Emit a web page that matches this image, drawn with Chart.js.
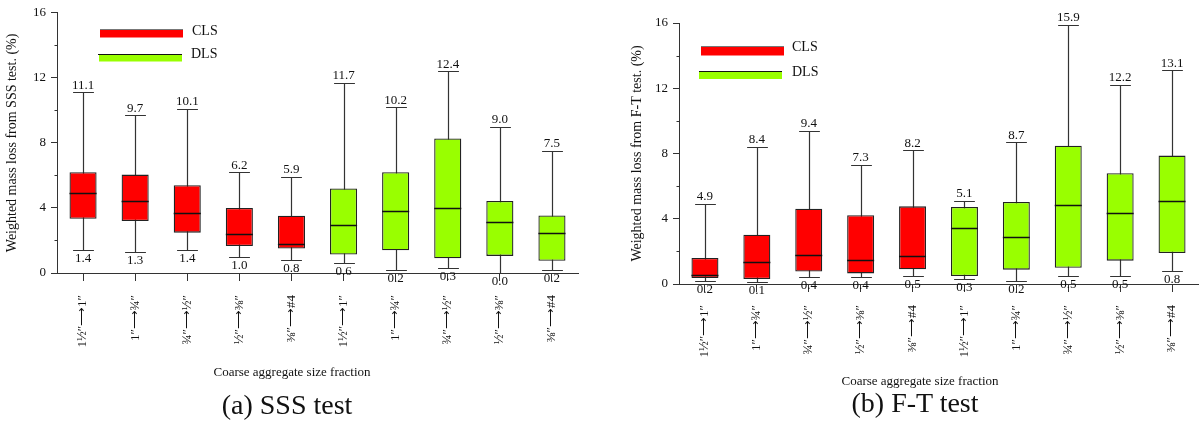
<!DOCTYPE html>
<html><head><meta charset="utf-8">
<script src="https://cdn.jsdelivr.net/npm/chart.js@4"></script>
<style>
html,body{margin:0;padding:0;background:#fff;width:1199px;height:425px;overflow:hidden}
#a{position:absolute;left:0;top:0}
#b{position:absolute;left:600px;top:0}
.lbl{position:absolute;transform:translate(-50%,-50%);white-space:nowrap;line-height:1;color:#111;
  font-family:'Liberation Serif','Times New Roman',serif}
.xt{font-size:13px}
.cap{font-size:28px}
</style></head><body>
<canvas id="a" width="600" height="425"></canvas>
<canvas id="b" width="599" height="425"></canvas>
<div class="lbl xt" style="left:292px;top:371px">Coarse aggregate size fraction</div>
<div class="lbl xt" style="left:920px;top:380px">Coarse aggregate size fraction</div>
<div class="lbl cap" style="left:287px;top:405px">(a) SSS test</div>
<div class="lbl cap" style="left:915px;top:403px">(b) F-T test</div>
<script>
// ---------- data ----------
const categories = ['1½″⟶1″', '1″⟶¾″', '¾″⟶½″', '½″⟶⅜″', '⅜″⟶#4', '1½″⟶1″', '1″⟶¾″', '¾″⟶½″', '½″⟶⅜″', '⅜″⟶#4'];
const slag = ['CLS','CLS','CLS','CLS','CLS','DLS','DLS','DLS','DLS','DLS'];
const yTicks = [0, 4, 8, 12, 16];

const sssMin    = [1.4, 1.3, 1.4, 1.0, 0.8, 0.6, 0.2, 0.3, 0.0, 0.2];
const sssQ1     = [3.34, 3.2, 2.48, 1.66, 1.5, 1.14, 1.4, 0.9, 1.05, 0.75];
const sssMedian = [4.9, 4.43, 3.7, 2.4, 1.79, 2.97, 3.84, 4.0, 3.15, 2.48];
const sssQ3     = [6.2, 6.05, 5.4, 4.0, 3.52, 5.2, 6.2, 8.27, 4.43, 3.54];
const sssMax    = [11.1, 9.7, 10.1, 6.2, 5.9, 11.7, 10.2, 12.4, 9.0, 7.5];

const ftMin     = [0.2, 0.1, 0.4, 0.4, 0.5, 0.3, 0.2, 0.5, 0.5, 0.8];
const ftQ1      = [0.37, 0.31, 0.77, 0.65, 0.9, 0.49, 0.88, 1.0, 1.43, 1.9];
const ftMedian  = [0.53, 1.35, 1.78, 1.47, 1.72, 3.44, 2.88, 4.82, 4.36, 5.09];
const ftQ3      = [1.6, 3.02, 4.62, 4.21, 4.76, 4.72, 5.03, 8.48, 6.79, 7.87];
const ftMax     = [4.9, 8.4, 9.4, 7.3, 8.2, 5.1, 8.7, 15.9, 12.2, 13.1];

// ---------- styling ----------
const SERIF = "'Liberation Serif','Times New Roman',serif";
const RED = '#ff0000', GREEN = '#99ff00';

const boxExtras = {
  id: 'boxExtras',
  beforeDatasetsDraw(chart, args, o) {
    const {ctx} = chart; const x = chart.scales.x, y = chart.scales.y;
    const step = x.getPixelForValue(1) - x.getPixelForValue(0);
    const half = step * o.capFrac / 2;
    ctx.save();
    ctx.strokeStyle = '#333'; ctx.lineWidth = 1.2;
    ctx.beginPath();
    o.min.forEach((mn, i) => {
      const cx = Math.round(x.getPixelForValue(i)) + 0.5;
      const y0 = Math.round(y.getPixelForValue(mn)) + 0.5;
      const y1 = Math.round(y.getPixelForValue(o.max[i])) + 0.5;
      ctx.moveTo(cx, y0); ctx.lineTo(cx, y1);
      ctx.moveTo(cx - half, y0); ctx.lineTo(cx + half, y0);
      ctx.moveTo(cx - half, y1); ctx.lineTo(cx + half, y1);
    });
    ctx.stroke();
    // minor y ticks
    ctx.strokeStyle = '#333'; ctx.lineWidth = 1;
    ctx.beginPath();
    const ax = Math.round(chart.chartArea.left) + 0.5;
    y.ticks.forEach(t => {
      if (!yTicks.includes(t.value)) {
        const py = Math.round(y.getPixelForValue(t.value)) + 0.5;
        ctx.moveTo(ax - 3, py); ctx.lineTo(ax, py);
      }
    });
    ctx.stroke();
    ctx.restore();
  },
  afterDatasetsDraw(chart, args, o) {
    const {ctx} = chart; const x = chart.scales.x, y = chart.scales.y;
    ctx.save();
    // medians
    ctx.strokeStyle = '#111'; ctx.lineWidth = 1.3;
    ctx.beginPath();
    chart.data.datasets.forEach((ds, di) => {
      chart.getDatasetMeta(di).data.forEach((el, i) => {
        if (ds.data[i] == null) return;
        const py = Math.round(y.getPixelForValue(o.median[i])) + 0.5;
        ctx.moveTo(el.x - el.width / 2, py); ctx.lineTo(el.x + el.width / 2, py);
      });
    });
    ctx.stroke();
    // value labels
    ctx.fillStyle = '#111';
    ctx.font = `13px ${SERIF}`;
    ctx.textAlign = 'center';
    o.min.forEach((mn, i) => {
      const cx = x.getPixelForValue(i);
      ctx.textBaseline = 'bottom';
      ctx.fillText(o.max[i].toFixed(1), cx, y.getPixelForValue(o.max[i]) - 0.5);
      ctx.textBaseline = 'top';
      ctx.fillText(mn.toFixed(1), cx, y.getPixelForValue(mn) + 2);
    });
    // legend
    o.legend.forEach(L => {
      ctx.fillStyle = L.color;
      ctx.fillRect(L.x, L.y, L.w, L.h);
      ctx.strokeStyle = L.lineColor; ctx.lineWidth = 1;
      ctx.beginPath(); ctx.moveTo(L.lx0, L.y - 0.5); ctx.lineTo(L.lx1, L.y - 0.5); ctx.stroke();
      ctx.fillStyle = '#111';
      ctx.font = `14px ${SERIF}`;
      ctx.textAlign = 'left'; ctx.textBaseline = 'middle';
      ctx.fillText(L.label, L.tx, L.ty);
    });
    ctx.restore();
  }
};

function boxData(q1, q3, grp) {
  return categories.map((_, i) => slag[i] === grp ? [q1[i], q3[i]] : null);
}

function makeChart(id, s) {
  return new Chart(document.getElementById(id), {
    type: 'bar',
    data: {
      labels: categories,
      datasets: [
        {label: 'CLS', data: boxData(s.q1, s.q3, 'CLS'), backgroundColor: RED},
        {label: 'DLS', data: boxData(s.q1, s.q3, 'DLS'), backgroundColor: GREEN}
      ]
    },
    options: {
      responsive: false, animation: false, devicePixelRatio: 1,
      layout: {padding: s.pad},
      datasets: {bar: {grouped: false, barPercentage: 0.52, categoryPercentage: 1,
        borderWidth: 1.3, borderColor: '#222', borderSkipped: false}},
      plugins: {
        legend: {display: false}, tooltip: {enabled: false},
        boxExtras: {min: s.min, max: s.max, median: s.median, capFrac: 0.4, legend: s.legend}
      },
      scales: {
        x: {
          offset: true,
          afterFit(sc) { sc.height = s.xh; sc.paddingLeft = 0; sc.paddingRight = 0; },
          border: {display: true, color: '#333', width: 1},
          grid: {drawOnChartArea: false, offset: false, tickLength: 8, tickColor: '#333'},
          ticks: {minRotation: 90, maxRotation: 90, autoSkip: false, padding: s.xtp, color: '#111',
            font: {family: SERIF, size: 13}}
        },
        y: {
          min: 0, max: 16,
          afterFit(sc) { sc.width = s.yw; },
          border: {display: true, color: '#333', width: 1},
          grid: {drawOnChartArea: false, tickLength: 6,
            tickColor: c => (c.tick && yTicks.includes(c.tick.value)) ? '#333' : 'rgba(0,0,0,0)'},
          ticks: {stepSize: 2, padding: 5, color: '#111', font: {family: SERIF, size: 13},
            callback: v => yTicks.includes(v) ? String(v) : ''},
          title: {display: true, text: s.ytitle, color: '#111',
            font: {family: SERIF, size: 14}, padding: {top: s.ytPad, bottom: 0}}
        }
      }
    },
    plugins: [boxExtras]
  });
}

makeChart('a', {
  q1: sssQ1, q3: sssQ3, min: sssMin, max: sssMax, median: sssMedian,
  ytitle: 'Weighted mass loss from SSS test. (%)',
  pad: {top: 11, left: 0, right: 22, bottom: 0}, yw: 57, xh: 152, xtp: 14, ytPad: 4,
  legend: [
    {label: 'CLS', color: RED, x: 100, y: 30, w: 83, h: 7.5, lineColor: '#777', lx0: 100, lx1: 183, tx: 192, ty: 31},
    {label: 'DLS', color: GREEN, x: 99, y: 55, w: 83, h: 6.5, lineColor: '#111', lx0: 98, lx1: 182, tx: 191, ty: 54.5}
  ]
});
makeChart('b', {
  q1: ftQ1, q3: ftQ3, min: ftMin, max: ftMax, median: ftMedian,
  ytitle: 'Weighted mass loss from F-T test. (%)',
  pad: {top: 23, left: 0, right: 1, bottom: 0}, yw: 79, xh: 141, xtp: 13, ytPad: 29,
  legend: [
    {label: 'CLS', color: RED, x: 101, y: 47, w: 83, h: 8.5, lineColor: '#777', lx0: 101, lx1: 184, tx: 192, ty: 47.5},
    {label: 'DLS', color: GREEN, x: 99, y: 72, w: 83, h: 7, lineColor: '#111', lx0: 99, lx1: 182, tx: 192, ty: 72}
  ]
});
</script>
</body></html>
